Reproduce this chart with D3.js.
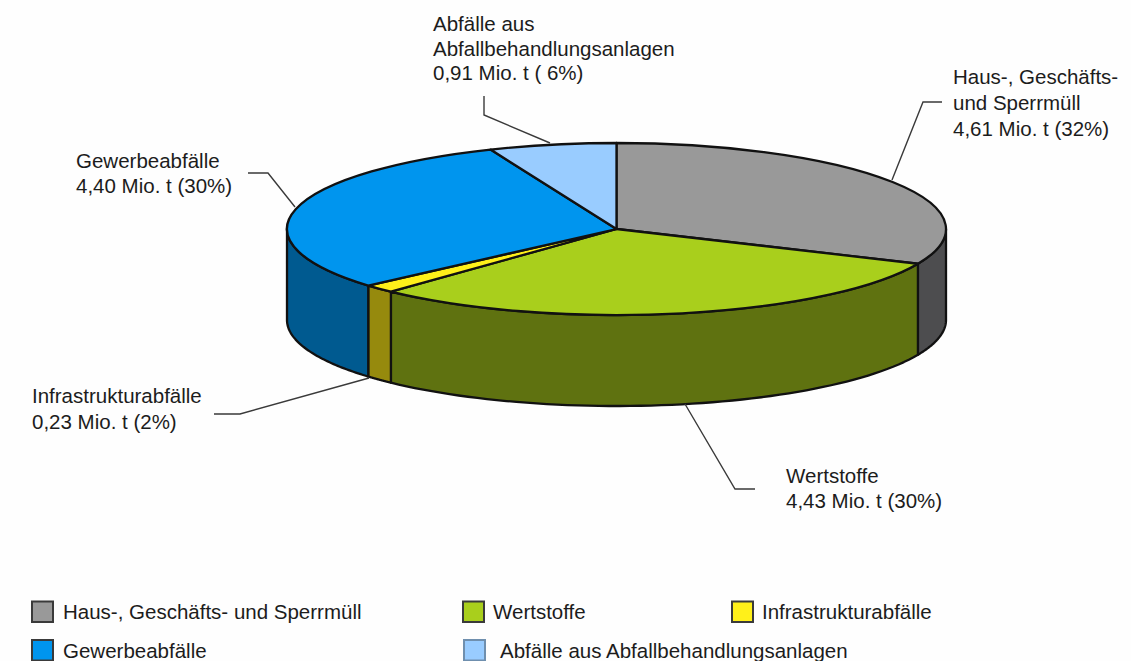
<!DOCTYPE html>
<html><head><meta charset="utf-8">
<script src="https://cdn.jsdelivr.net/npm/d3@7"></script>
<style>
html,body{margin:0;padding:0;background:#fff}
svg{display:block}
text{font-family:"Liberation Sans",Arial,sans-serif;fill:#1c1c1c;font-size:20.5px}
</style></head><body>
<svg id="c" width="1131" height="661"></svg>
<script>
const categories=["Haus-, Geschäfts- und Sperrmüll","Wertstoffe","Infrastrukturabfälle","Gewerbeabfälle","Abfälle aus Abfallbehandlungsanlagen"];
const values=[4.61,4.43,0.23,4.40,0.91];
const topColors=["#999999","#a9cf1c","#fff01a","#0095ee","#99ccff"];
const wallColors=["#4d4d4f","#5f7210","#968a0d","#005a90","#7fa9d4"];
const calloutLabels=[
 ["Haus-, Geschäfts-","und Sperrmüll","4,61 Mio. t (32%)"],
 ["Wertstoffe","4,43 Mio. t (30%)"],
 ["Infrastrukturabfälle","0,23 Mio. t (2%)"],
 ["Gewerbeabfälle","4,40 Mio. t (30%)"],
 ["Abfälle aus","Abfallbehandlungsanlagen","0,91 Mio. t ( 6%)"]];
const labelPos=[[953,84],[786,483],[32,403],[76,168],[433,31]];
const labelGap=[26,25,26,25,24.5];
const leaders=[
 [[892,180],[923,102],[942,102]],
 [[685,404],[735,489],[755,489]],
 [[369,378],[240,414],[214,414]],
 [[295,207],[268,173],[248,173]],
 [[550,143],[484,115],[484,96]]];
const legendPos=[[32,601.5],[463,601.5],[732,601.5],[32,640],[464,640]];
const legendText=[[63,619],[493,619],[762,619],[63,658],[500,658]];

const cx=616.5,cy=229,rx=329.5,ry=86,depth=91;
const svg=d3.select("#c");
svg.append("rect").attr("width",1131).attr("height",661).attr("fill","#fefefe");
const pieData=d3.pie().sort(null).startAngle(0).endAngle(2*Math.PI)(values);
const px=a=>cx+rx*Math.sin(a), py=a=>cy-ry*Math.cos(a);

// walls (only the front half of the ellipse is visible)
const wall=d3.area().x(a=>px(a)).y0(a=>py(a)).y1(a=>py(a)+depth);
pieData.forEach((d,i)=>{
  const s=Math.max(d.startAngle,Math.PI/2), e=Math.min(d.endAngle,3*Math.PI/2);
  if(e<=s) return;
  const steps=d3.range(0,61).map(k=>s+(e-s)*k/60);
  svg.append("path").attr("d",wall(steps)).attr("fill",wallColors[i])
    .attr("stroke","#111").attr("stroke-width",2.3).attr("stroke-linejoin","round");
});

// top faces
const arcGen=d3.arc().innerRadius(0).outerRadius(rx);
const topFace=svg.append("g").attr("transform",`translate(${cx},${cy}) scale(1,${ry/rx})`);
topFace.selectAll("path").data(pieData).join("path").attr("d",arcGen)
  .attr("fill",(d,i)=>topColors[i]).attr("stroke","#111").attr("stroke-width",2.3)
  .attr("stroke-linejoin","round").attr("vector-effect","non-scaling-stroke");

// leaders
const lineGen=d3.line();
leaders.forEach(l=>svg.append("path").attr("d",lineGen(l)).attr("fill","none").attr("stroke","#3a3a3a").attr("stroke-width",1.4));

// callouts
calloutLabels.forEach((lines,i)=>{
  const t=svg.append("text").attr("x",labelPos[i][0]).attr("y",labelPos[i][1]);
  lines.forEach((s,j)=>t.append("tspan").attr("x",labelPos[i][0]).attr("dy",j?labelGap[i]:0).text(s));
});

// legend
const legendStroke=["#3a3a3a","#3a3a3a","#3a3a3a","#3a3a3a","#6f8fae"];
categories.forEach((c,i)=>{
  svg.append("rect").attr("x",legendPos[i][0]).attr("y",legendPos[i][1]).attr("width",21).attr("height",20.5)
    .attr("fill",topColors[i]).attr("stroke",legendStroke[i]).attr("stroke-width",2);
  svg.append("text").attr("x",legendText[i][0]).attr("y",legendText[i][1]).text(c);
});
</script></body></html>
